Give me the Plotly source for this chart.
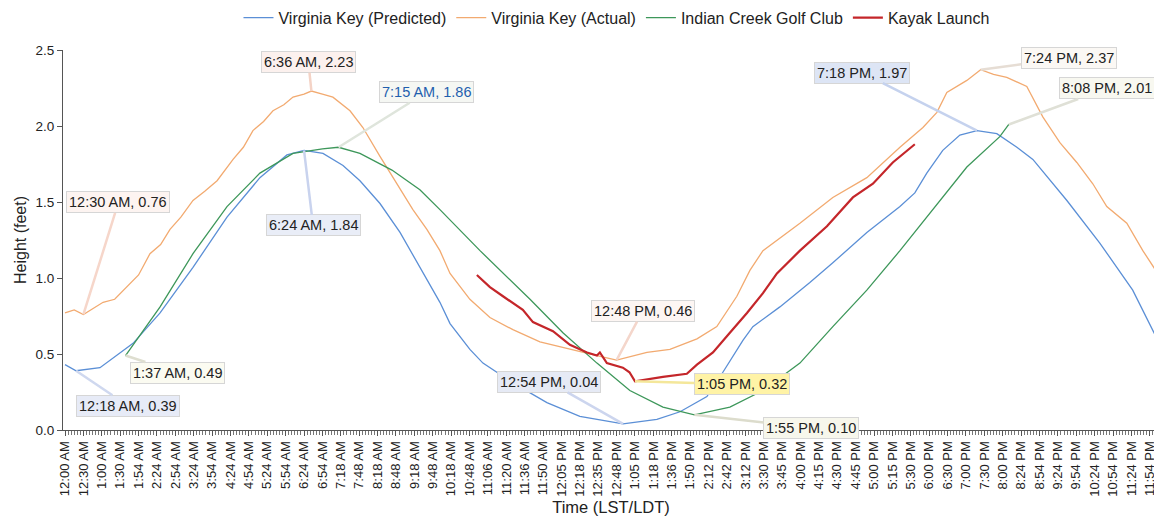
import plotly.graph_objects as go

# category labels along the time axis (one every slot)
tick_labels = [
    "12:00 AM", "12:30 AM", "1:00 AM", "1:30 AM", "1:54 AM", "2:24 AM", "2:54 AM", "3:24 AM",
    "3:54 AM", "4:24 AM", "4:54 AM", "5:24 AM", "5:54 AM", "6:24 AM", "6:54 AM", "7:18 AM",
    "7:48 AM", "8:18 AM", "8:48 AM", "9:18 AM", "9:48 AM", "10:18 AM", "10:48 AM", "11:06 AM",
    "11:20 AM", "11:36 AM", "11:50 AM", "12:05 PM", "12:18 PM", "12:35 PM", "12:48 PM", "1:05 PM",
    "1:18 PM", "1:36 PM", "1:50 PM", "2:12 PM", "2:42 PM", "3:12 PM", "3:30 PM", "3:45 PM",
    "4:00 PM", "4:15 PM", "4:30 PM", "4:45 PM", "5:00 PM", "5:15 PM", "5:30 PM", "6:00 PM",
    "6:30 PM", "7:00 PM", "7:30 PM", "8:00 PM", "8:24 PM", "8:54 PM", "9:24 PM", "9:54 PM",
    "10:24 PM", "10:54 PM", "11:24 PM", "11:54 PM",
]

# x = position along the category axis (slot index), y = height in feet
pred_x = [0.0, 0.6, 1.9, 3.0, 3.7, 5.17, 6.96, 8.81, 10.6, 12.07, 13.0, 14.03, 15.12, 16.04,
          17.13, 18.22, 19.3, 20.39, 20.94, 22.02, 22.73, 24.36, 26.21, 28.0, 30.35, 32.19,
          33.45, 34.91, 35.78, 36.87, 37.41, 38.88, 40.51, 41.76, 43.61, 45.41, 46.22, 46.87,
          47.74, 48.67, 49.6, 50.68, 51.77, 52.64, 54.49, 56.28, 58.07, 59.27]
pred_y = [0.43, 0.39, 0.41, 0.51, 0.57, 0.77, 1.07, 1.40, 1.66, 1.81, 1.84, 1.82, 1.74, 1.64,
          1.49, 1.30, 1.07, 0.84, 0.70, 0.53, 0.44, 0.31, 0.18, 0.09, 0.04, 0.07,
          0.12, 0.22, 0.38, 0.59, 0.68, 0.81, 0.97, 1.10, 1.30, 1.47, 1.56, 1.69,
          1.84, 1.94, 1.97, 1.95, 1.86, 1.78, 1.51, 1.23, 0.92, 0.63]

actual_x = [0.0, 0.5, 1.0, 1.5, 2.07, 2.7, 3.37, 4.0, 4.62, 5.2, 5.71, 6.3, 6.96, 7.6, 8.27,
            9.14, 9.7, 10.22, 10.8, 11.31, 11.9, 12.4, 13.0, 13.4, 14.0, 14.57, 15.5, 16.2,
            17.13, 18.05, 18.92, 19.68, 20.39, 20.94, 22.02, 23.11, 24.36, 25.83, 27.46,
            28.93, 30.0, 31.65, 32.9, 34.37, 35.45, 36.54, 37.25, 37.96, 39.97, 41.76, 43.61,
            45.41, 46.66, 47.42, 47.96, 49.05, 49.8, 50.5, 51.22, 52.31, 53.18, 54.11, 55.03,
            55.9, 56.66, 57.75, 58.62, 59.27]
actual_y = [0.77, 0.79, 0.76, 0.80, 0.84, 0.86, 0.94, 1.02, 1.16, 1.22, 1.32, 1.40, 1.51, 1.57,
            1.64, 1.78, 1.86, 1.97, 2.03, 2.10, 2.14, 2.19, 2.21, 2.23, 2.21, 2.19, 2.10, 1.99,
            1.80, 1.62, 1.45, 1.32, 1.18, 1.03, 0.86, 0.74, 0.66, 0.58, 0.53,
            0.49, 0.46, 0.51, 0.53, 0.60, 0.68, 0.88, 1.05, 1.18, 1.36, 1.53, 1.66,
            1.86, 1.99, 2.09, 2.22, 2.30, 2.37, 2.34, 2.32, 2.26, 2.06, 1.89, 1.76,
            1.62, 1.47, 1.36, 1.18, 1.06]

creek_x = [3.29, 5.17, 6.96, 8.81, 10.6, 12.4, 14.0, 14.875, 16.04, 17.78, 19.3, 20.39, 22.57,
           25.29, 27.08, 28.93, 30.72, 32.52, 34.23, 36.16, 37.96, 39.97, 41.76, 43.61, 45.41,
           47.2, 49.05, 50.84, 51.33]
creek_y = [0.49, 0.81, 1.16, 1.47, 1.69, 1.82, 1.85, 1.86, 1.82, 1.71, 1.58, 1.45, 1.18,
           0.86, 0.64, 0.44, 0.26, 0.15, 0.10, 0.15, 0.26, 0.44, 0.68, 0.92, 1.18,
           1.45, 1.73, 1.93, 2.01]

kayak_x = [22.4, 23.11, 23.82, 24.9, 25.45, 26.54, 27.46, 28.39, 28.93, 29.09, 29.47, 30.34,
           30.7, 31.0, 32.52, 33.82, 34.37, 35.24, 36.16, 37.09, 37.96, 38.72, 39.97, 41.44,
           42.85, 43.94, 45.02, 46.22]
kayak_y = [1.02, 0.94, 0.88, 0.79, 0.71, 0.65, 0.56, 0.51, 0.49, 0.51, 0.44, 0.41,
           0.38, 0.32, 0.35, 0.37, 0.43, 0.51, 0.64, 0.77, 0.90, 1.03, 1.18, 1.34,
           1.53, 1.62, 1.76, 1.88]

# callouts: text, x slot, value, box offset (px), box fill, pointer colour, text colour
callouts = [
    ("12:30 AM, 0.76", 1.0, 0.76, 35, -112, "#fdf4f1", "#f6d6ca", "#222222"),
    ("12:18 AM, 0.39", 0.6, 0.39, 52, 35, "#e7ebf7", "#cfd8ef", "#222222"),
    ("1:37 AM, 0.49", 3.29, 0.49, 52, 17, "#fbfbf1", "#deded0", "#222222"),
    ("6:24 AM, 1.84", 13.0, 1.84, 9, 75, "#e9edf7", "#c9d3ee", "#222222"),
    ("6:36 AM, 2.23", 13.4, 2.23, -3, -29, "#fcf1ee", "#f4d3c6", "#222222"),
    ("7:15 AM, 1.86", 14.875, 1.86, 88, -55, "#f5f7f3", "#dfe5dc", "#1f5fae"),
    ("12:48 PM, 0.46", 30.0, 0.46, 26, -49, "#fdf6f3", "#f4d6cb", "#222222"),
    ("12:54 PM, 0.04", 30.35, 0.04, -74, -42, "#e6eaf5", "#ccd5ee", "#222222"),
    ("1:05 PM, 0.32", 31.0, 0.32, 107, 3, "#fff3a6", "#f4e79a", "#222222"),
    ("1:55 PM, 0.10", 34.23, 0.10, 117, 13, "#f7f7ec", "#dcdccc", "#222222"),
    ("7:18 PM, 1.97", 49.6, 1.97, -115, -58, "#dde5f5", "#c5d2ee", "#222222"),
    ("7:24 PM, 2.37", 49.8, 2.37, 88, -12, "#fbf8f4", "#e6ddd4", "#222222"),
    ("8:08 PM, 2.01", 51.33, 2.01, 98, -36, "#f8f8f0", "#dfe0d6", "#222222"),
]

fig = go.Figure()
series = [
    ("Virginia Key (Predicted)", pred_x, pred_y, "#5b8fd6", 1.3),
    ("Virginia Key (Actual)", actual_x, actual_y, "#f2aa70", 1.3),
    ("Indian Creek Golf Club", creek_x, creek_y, "#3d975a", 1.3),
    ("Kayak Launch", kayak_x, kayak_y, "#c4262a", 2.2),
]
for name, xs, ys, color, width in series:
    fig.add_trace(go.Scatter(x=xs, y=ys, mode="lines", name=name,
                             line={"color": color, "width": width}))

for text, cx, cy, ax, ay, fill, pointer, tcolor in callouts:
    fig.add_annotation(
        x=cx, y=cy, text=text, showarrow=True, arrowhead=0, arrowwidth=2.5,
        arrowcolor=pointer, ax=ax, ay=ay, bgcolor=fill, bordercolor="#d6d6d6",
        borderwidth=1, borderpad=2, font={"size": 14.5, "color": tcolor},
    )

# page body adds an 8px offset, so the figure is sized to fit the remaining window
fig.update_layout(
    width=1154, height=517,
    margin={"l": 55, "r": 3, "t": 42, "b": 95},
    paper_bgcolor="white", plot_bgcolor="white",
    font={"family": "Liberation Sans, Arial, sans-serif", "color": "#222222"},
    showlegend=True,
    legend={"orientation": "h", "x": 0.505, "xanchor": "center", "y": 0.981,
            "yref": "container", "yanchor": "middle", "font": {"size": 16},
            "itemwidth": 30, "tracegroupgap": 0},
)
fig.update_xaxes(
    range=[-0.11, 59.5], tickmode="array", tickvals=list(range(len(tick_labels))),
    ticktext=tick_labels, tickangle=-90, tickfont={"size": 13}, automargin=False,
    showline=True, linecolor="#555555", linewidth=1, showgrid=False, zeroline=False,
    ticks="outside", ticklen=5, tickcolor="#555555",
    minor={"ticks": "outside", "ticklen": 4, "dtick": 1 / 6, "tick0": 0, "tickcolor": "#777777"},
    title={"text": "Time (LST/LDT)", "font": {"size": 16.5}, "standoff": 5},
)
fig.update_yaxes(
    range=[0, 2.5], dtick=0.5, tickformat=".1f", tickfont={"size": 13.5}, automargin=False,
    showline=True, linecolor="#555555", linewidth=1, showgrid=False, zeroline=False,
    ticks="outside", ticklen=5, tickcolor="#555555",
    title={"text": "Height (feet)", "font": {"size": 16}, "standoff": 4},
)

fig.write_html("out.html")
